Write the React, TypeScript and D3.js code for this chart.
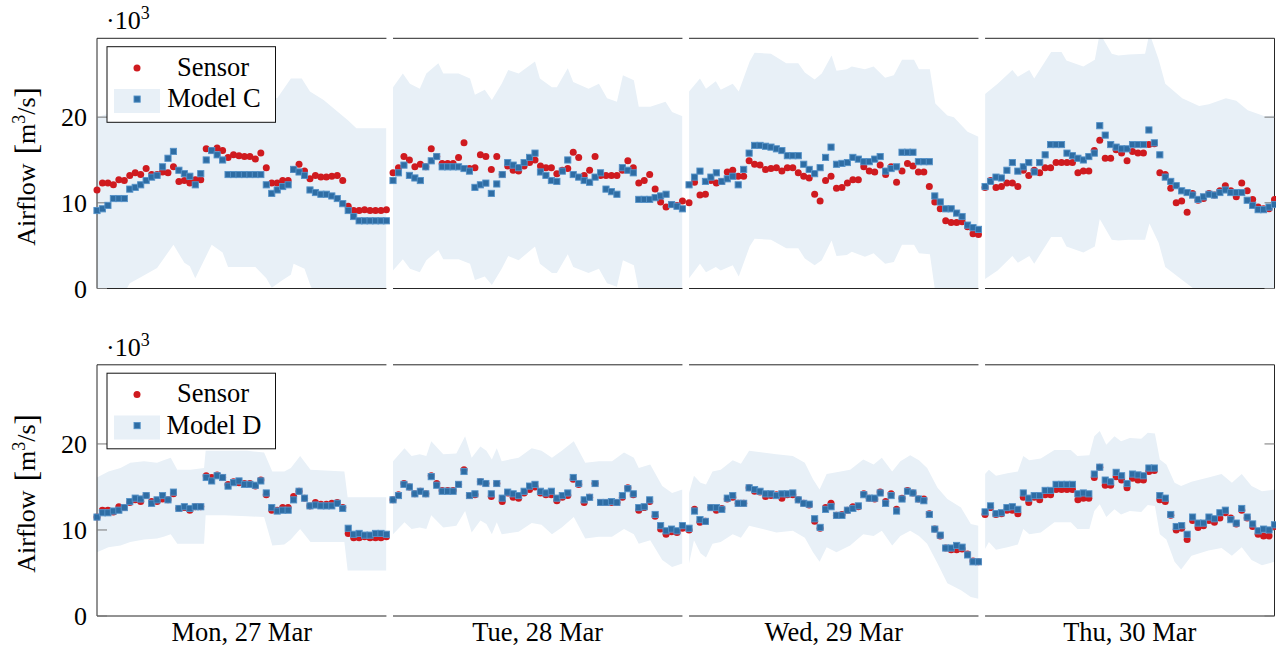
import * as d3 from "d3";

const days = ["Mon, 27 Mar", "Tue, 28 Mar", "Wed, 29 Mar", "Thu, 30 Mar"];
const yTicks = [0, 10, 20];
const yMax = 29.2;

// airflow in 10^3 m3/s, 54 samples per day
const sensor = [
  [11.5, 12.3, 12.3, 12.1, 12.7, 12.6, 13.2, 13.5, 13.3, 14.0, 13.3, 13.3, 13.6, 13.5, 14.2, 12.5, 12.6, 12.3, 12.7, 12.7,
   16.3, 16.1, 16.4, 16.1, 15.3, 15.6, 15.5, 15.4, 15.4, 15.1, 15.8, 14.1, 12.3, 12.3, 12.6, 12.6, 13.9, 14.5, 13.7, 12.8,
   13.2, 13.0, 13.0, 13.1, 13.2, 12.6, 9.6, 9.1, 9.1, 9.2, 9.1, 9.1, 9.1, 9.2],
  [13.5, 14.1, 15.4, 15.0, 14.2, 14.5, 14.2, 16.3, 15.4, 14.6, 14.6, 14.6, 15.3, 17.0, 14.0, 14.1, 15.6, 15.4, 13.9, 15.4,
   13.3, 14.3, 13.8, 13.7, 14.3, 14.7, 15.0, 14.3, 14.1, 14.1, 13.4, 13.8, 14.0, 15.9, 15.3, 13.2, 13.8, 15.4, 13.2, 13.2,
   13.2, 13.2, 13.8, 14.9, 14.1, 12.3, 12.6, 13.3, 11.6, 10.1, 9.5, 9.8, 9.7, 10.2],
  [10.0, 12.4, 10.9, 11.0, 12.6, 12.3, 12.5, 13.6, 13.8, 13.1, 13.1, 14.9, 14.5, 14.4, 13.9, 14.0, 14.1, 13.7, 14.1, 14.1,
   13.5, 13.1, 12.9, 11.0, 10.2, 12.6, 13.1, 11.7, 11.8, 12.3, 12.7, 12.7, 14.2, 13.7, 13.6, 14.4, 13.3, 14.2, 12.4, 13.7,
   14.6, 14.3, 13.6, 13.6, 11.9, 10.1, 9.3, 7.9, 7.7, 7.7, 7.8, 7.2, 6.4, 6.3],
  [11.8, 12.6, 11.8, 11.9, 12.3, 12.3, 11.9, 13.8, 13.2, 13.8, 13.5, 14.1, 14.1, 14.7, 14.7, 14.7, 14.7, 13.5, 13.7, 13.7,
   16.1, 17.3, 15.2, 15.2, 16.2, 15.8, 14.9, 16.0, 15.8, 15.8, 16.8, 16.9, 13.5, 13.3, 11.7, 10.0, 10.2, 8.9, 11.1, 10.3,
   10.5, 11.1, 10.9, 11.4, 12.0, 11.4, 10.7, 12.3, 11.4, 10.4, 9.5, 9.3, 9.3, 10.4],
];

const modelC = [
  [9.1, 9.3, 9.7, 10.5, 10.5, 10.5, 11.6, 11.8, 12.1, 12.6, 13.0, 13.2, 14.2, 15.2, 16.0, 13.8, 13.4, 13.1, 12.1, 13.4,
   15.0, 16.1, 15.6, 15.0, 13.3, 13.3, 13.3, 13.3, 13.3, 13.3, 13.3, 12.1, 11.1, 11.5, 11.9, 12.1, 13.9, 13.6, 13.2, 11.5,
   11.2, 11.0, 11.0, 10.8, 10.5, 9.9, 9.1, 8.4, 7.9, 7.9, 7.9, 7.9, 7.9, 7.9],
  [12.6, 13.5, 14.4, 13.2, 12.9, 12.6, 14.2, 14.9, 15.4, 14.2, 14.2, 14.2, 14.2, 14.0, 13.7, 11.8, 12.1, 12.3, 11.1, 12.2,
   13.3, 14.7, 14.4, 14.1, 14.7, 15.3, 15.8, 13.6, 13.2, 12.6, 12.5, 13.7, 15.0, 13.3, 13.0, 12.6, 12.4, 13.0, 13.5, 11.6,
   11.3, 11.0, 14.1, 13.8, 13.5, 10.4, 10.4, 10.4, 10.6, 10.8, 11.0, 9.8, 9.6, 9.3],
  [12.1, 13.0, 13.7, 12.5, 13.0, 13.5, 12.5, 12.8, 13.1, 12.1, 13.9, 15.8, 16.7, 16.7, 16.6, 16.5, 16.3, 16.1, 15.5, 15.5,
   15.5, 14.5, 13.9, 13.4, 14.1, 15.3, 16.5, 14.5, 14.6, 14.7, 15.3, 15.1, 14.8, 14.8, 15.1, 15.4, 13.7, 14.0, 14.2, 15.9,
   15.9, 15.9, 14.8, 14.8, 14.8, 10.8, 10.1, 9.3, 9.3, 8.8, 8.4, 7.4, 7.1, 6.9],
  [11.9, 12.5, 13.0, 12.9, 13.8, 14.7, 13.7, 14.2, 14.7, 13.6, 14.7, 15.6, 16.8, 16.8, 16.8, 15.8, 15.5, 15.2, 15.0, 15.4,
   15.8, 19.0, 17.9, 16.8, 16.5, 16.3, 16.3, 16.8, 16.8, 16.8, 18.5, 17.0, 15.6, 13.0, 12.5, 12.0, 11.4, 11.2, 10.9, 10.4,
   10.7, 11.0, 10.9, 11.2, 11.5, 11.2, 11.2, 11.2, 10.3, 9.7, 9.2, 9.2, 9.5, 9.8],
];

const modelD = [
  [11.5, 12.0, 12.0, 12.2, 12.3, 12.6, 13.3, 13.7, 13.6, 14.0, 13.1, 13.5, 14.0, 13.5, 14.4, 12.5, 12.7, 12.5, 12.7, 12.7,
   16.1, 15.7, 16.3, 16.1, 15.1, 15.5, 15.7, 15.3, 15.3, 15.2, 15.7, 14.3, 12.6, 12.2, 12.3, 12.3, 13.5, 14.5, 13.7, 12.8,
   12.9, 12.8, 12.8, 12.8, 13.1, 12.5, 10.2, 9.5, 9.6, 9.4, 9.4, 9.6, 9.6, 9.5],
  [13.5, 14.0, 15.3, 15.0, 14.2, 14.5, 14.2, 16.2, 15.2, 14.5, 14.5, 14.5, 15.3, 16.8, 14.0, 14.2, 15.6, 15.4, 14.2, 15.4,
   13.7, 14.4, 14.2, 14.0, 14.5, 15.1, 15.3, 14.5, 14.3, 14.5, 13.7, 14.0, 14.3, 16.1, 15.4, 13.5, 13.8, 15.4, 13.2, 13.2,
   13.3, 13.2, 14.0, 14.8, 14.2, 12.6, 12.7, 13.5, 11.8, 10.5, 9.9, 10.1, 9.9, 10.5],
  [10.2, 12.2, 11.2, 11.0, 12.6, 12.6, 12.4, 13.7, 14.0, 13.1, 13.1, 14.9, 14.7, 14.5, 14.2, 14.2, 14.0, 14.2, 14.2, 14.3,
   13.5, 13.1, 13.0, 11.3, 10.3, 12.4, 12.7, 11.7, 11.7, 12.3, 12.5, 12.8, 14.1, 13.7, 13.7, 14.3, 13.1, 14.0, 12.2, 13.6,
   14.5, 14.3, 13.6, 13.4, 11.8, 10.1, 9.4, 7.9, 7.9, 8.2, 8.0, 7.1, 6.3, 6.3],
  [12.1, 12.8, 11.9, 12.0, 12.6, 12.7, 12.4, 14.3, 13.7, 14.0, 14.0, 14.6, 14.6, 15.3, 15.3, 15.3, 15.3, 14.2, 14.3, 14.2,
   16.5, 17.3, 15.8, 15.6, 16.7, 16.3, 15.4, 16.5, 16.4, 16.3, 17.2, 17.2, 14.0, 13.7, 11.8, 10.4, 10.5, 9.5, 11.5, 10.8,
   10.8, 11.5, 11.3, 12.0, 12.3, 11.2, 10.8, 12.5, 11.5, 10.7, 9.9, 10.1, 10.0, 10.6],
];

// uncertainty band outlines: [sample index, value]
const cUpper = [
  [[0, 20.0], [5, 21.0], [8, 21.5], [11, 22.5], [14, 23.3], [16, 22.0], [18, 21.5], [21, 26.5], [23, 25.5], [24, 23.5],
   [29, 23.8], [31, 22.5], [33, 22.2], [35.5, 24.5], [37.5, 24.5], [39, 23.0], [41.5, 22.0], [46, 19.6], [47.5, 18.7], [53, 18.7]],
  [[0, 23.5], [1.8, 25.1], [3.1, 23.9], [4.9, 23.3], [6.1, 25.1], [8.3, 26.3], [9.2, 25.1], [12, 25.1], [14.1, 24.5], [15, 22.6],
   [16.8, 23.2], [18.1, 22.0], [19.9, 23.9], [21.1, 25.5], [23, 25.1], [26, 26.5], [26.9, 24.5], [29.1, 23.5], [30, 23.5], [32, 25.7],
   [33, 24.1], [35.8, 23.3], [37.7, 23.9], [39.2, 22.2], [41, 21.8], [42.1, 24.9], [44.1, 24.3], [45, 21.2], [47.1, 21.2], [49.9, 21.8],
   [51.1, 20.6], [53, 20.1]],
  [[0, 23.0], [2, 24.5], [3.1, 23.3], [4.9, 24.2], [5.8, 23.2], [8, 23.9], [9.1, 23.0], [11.1, 26.5], [12, 27.5], [15, 27.4],
   [17.8, 26.3], [20, 26.3], [21.2, 25.2], [23, 24.4], [24.3, 25.1], [26.1, 27.2], [27, 25.4], [28.9, 25.6], [29.8, 25.9], [32.2, 25.6],
   [33.8, 25.9], [35.9, 24.6], [37.5, 24.9], [39, 26.7], [41.2, 26.7], [42.1, 25.6], [44.1, 25.6], [45.1, 21.6], [47.3, 20.2], [48.5, 20.0],
   [51, 18.3], [53, 17.7]],
  [[0, 22.7], [2.3, 23.9], [5, 25.5], [6, 24.7], [8.1, 25.5], [9, 24.5], [12.1, 27.6], [14, 27.6], [14.9, 26.6], [18, 25.9],
   [20.1, 26.7], [21, 29.8], [23.2, 27.4], [24.4, 27.2], [26.3, 27.3], [29.3, 27.4], [30.1, 29.8], [31.8, 26.7], [33, 23.9], [36.1, 22.2],
   [39.2, 21.3], [41, 21.5], [44.1, 22.2], [46, 21.9], [48.1, 20.8], [51.2, 20.1], [53, 20.2]],
];

const cLower = [
  [[0, -2], [5, -0.5], [6, 0.6], [8, 1.3], [11, 2.4], [14, 5.1], [16, 3.0], [17, 2.6], [18, 1.2], [21, 5.1], [23, 4.2],
   [24, 2.5], [29, 2.5], [31, 1.2], [32, 0.1], [34, 1.0], [35.5, 1.6], [36, 2.9], [38, 2.3], [39, 0.5], [40, -1], [53, -1]],
  [[0, 2.1], [1.8, 3.4], [3.1, 2.3], [4.9, 1.9], [6.1, 3.3], [8.3, 4.5], [9.2, 3.4], [12, 3.4], [14.1, 2.9], [15, 1.0],
   [16.8, 1.4], [18.1, 0.4], [19.9, 2.3], [21.1, 3.8], [23, 3.3], [26, 4.9], [26.9, 2.9], [29.1, 1.8], [30, 1.8], [32, 4.0],
   [33, 2.5], [35.8, 1.8], [37.7, 2.3], [39.2, 0.6], [41, 0.2], [42.1, 3.3], [44.1, 2.7], [45, -0.2], [47.1, -0.5], [49.9, -0.5],
   [51.1, -1], [53, -1]],
  [[0, 1.2], [2, 2.9], [3.1, 1.9], [4.9, 2.5], [5.8, 2.1], [8, 2.7], [9.1, 1.4], [11.1, 4.9], [12, 5.8], [15, 5.7],
   [17.8, 4.7], [20, 4.7], [21.2, 3.5], [23, 2.7], [24.3, 3.3], [26.1, 5.6], [27, 3.8], [28.9, 3.9], [29.8, 4.3], [32.2, 3.7],
   [33.8, 4.1], [35.9, 2.9], [37.5, 3.1], [39, 5.1], [41.2, 5.1], [42.1, 4.1], [44.1, 4.0], [45.1, -0.5], [47.3, -2], [48.5, -2],
   [51, -3.5], [53, -4]],
  [[0, 1.1], [2.3, 2.1], [5, 3.8], [6, 3.0], [8.1, 3.8], [9, 2.9], [12.1, 6.0], [14, 6.0], [14.9, 4.9], [18, 4.2],
   [20.1, 4.9], [21, 8.1], [23.2, 5.7], [24.4, 5.6], [26.3, 5.7], [29.3, 5.7], [30.1, 7.6], [31.8, 5.3], [33, 2.5], [36.1, 1.0],
   [39.2, -0.5], [41, -0.5], [44.1, 0], [46, -0.3], [48.1, -1], [51.2, -1.5], [53, -1.5]],
];

const dUpper = [
  [[0, 16.1], [2.1, 16.8], [4.3, 17.2], [6.1, 17.8], [8.6, 18.0], [11, 17.8], [12.2, 18.1], [13.5, 18.4], [14.7, 17.0], [17.1, 17.0],
   [19.6, 17.2], [19.9, 19.2], [23.2, 19.2], [27.5, 19.2], [30.6, 19.0], [32.1, 16.8], [34.3, 16.8], [35.5, 17.2], [37.2, 18.6], [39.1, 17.0],
   [45.3, 16.8], [45.9, 13.8], [53, 13.8]],
  [[0, 18.0], [2.1, 19.5], [3.4, 18.6], [4.9, 18.8], [6.1, 18.6], [7.0, 20.3], [9.2, 18.8], [11.6, 18.9], [13.2, 20.9], [14.4, 18.4],
   [16.0, 19.7], [17.1, 19.2], [18.1, 18.2], [19.0, 19.5], [19.9, 18.0], [23, 18.4], [25.4, 19.5], [27.2, 19.2], [29.1, 18.4], [30.9, 19.2],
   [33.1, 20.3], [35.2, 17.8], [37.7, 18.0], [40.1, 18.0], [42.3, 19.0], [44.1, 18.4], [45, 17.2], [47.1, 17.6], [49.3, 15.1], [51.1, 14.3],
   [53, 14.7]],
  [[0, 14.3], [0.9, 16.3], [2.1, 15.5], [3.1, 15.3], [4.3, 16.8], [5.8, 17.0], [8, 18.1], [9.5, 17.7], [11, 19.2], [13.5, 19.0],
   [16, 18.8], [19, 18.6], [21.2, 17.8], [22.7, 15.9], [23.9, 14.7], [25.2, 16.5], [27, 16.7], [29.5, 17.0], [31.9, 18.2], [33.8, 17.6],
   [35.3, 18.4], [37.2, 16.8], [38.7, 18.0], [40.5, 18.7], [42.1, 18.1], [43.6, 17.2], [45.5, 14.9], [47.3, 13.6], [49.8, 12.6], [51.6, 10.7],
   [53, 10.5]],
  [[0, 16.5], [0.7, 17.0], [2, 16.3], [4.1, 16.6], [6, 16.8], [7.0, 18.6], [8.1, 18.1], [10.2, 18.3], [12.7, 19.3], [15.7, 19.3],
   [16.9, 18.6], [19.1, 18.7], [20, 20.9], [21, 21.5], [22.2, 19.9], [23.7, 20.9], [24.9, 20.3], [26.5, 20.7], [28.6, 20.6], [29.8, 21.3],
   [31.1, 21.2], [32, 18.2], [33.2, 17.6], [34.7, 15.5], [35.9, 15.1], [37.8, 15.6], [40.9, 16.1], [43.3, 16.5], [45.2, 15.5], [47, 16.5],
   [48.8, 15.1], [50.7, 14.5], [53, 14.7]],
];

const dLower = [
  [[0, 7.4], [2.1, 8.0], [4.3, 8.2], [6.1, 8.6], [8.6, 8.9], [11, 9.0], [12.2, 9.2], [13.5, 9.5], [14.7, 8.4], [17.1, 8.4],
   [19.6, 8.4], [19.9, 11.7], [23.2, 11.7], [27.5, 11.6], [30.6, 11.5], [32.1, 8.2], [34.3, 8.3], [35.5, 8.9], [37.2, 10.1], [39.1, 8.6],
   [45.3, 8.6], [45.9, 5.3], [53, 5.3]],
  [[0, 9.5], [2.1, 10.9], [3.4, 10.1], [4.9, 10.3], [6.1, 10.1], [7.0, 11.7], [9.2, 10.3], [11.6, 10.5], [13.2, 12.2], [14.4, 9.7],
   [16.0, 11.1], [17.1, 10.7], [18.1, 9.5], [19.0, 10.9], [19.9, 9.5], [23, 9.8], [25.4, 10.8], [27.2, 10.6], [29.1, 9.5], [30.9, 10.3],
   [33.1, 11.5], [35.2, 9.0], [37.7, 9.2], [40.1, 9.2], [42.3, 10.1], [44.1, 9.5], [45, 8.4], [47.1, 8.8], [49.3, 6.5], [51.1, 5.7],
   [53, 6.1]],
  [[0, 6.1], [0.9, 8.8], [2.1, 7.3], [3.1, 6.8], [4.3, 8.4], [5.8, 8.6], [8, 9.5], [9.5, 9.1], [11, 10.5], [13.5, 10.1],
   [16, 9.7], [19, 9.9], [21.2, 9.1], [22.7, 7.4], [23.9, 6.3], [25.2, 8.0], [27, 7.4], [29.5, 8.2], [31.9, 9.5], [33.8, 9.3],
   [35.3, 9.9], [37.2, 8.2], [38.7, 9.3], [40.5, 9.9], [42.1, 9.3], [43.6, 8.4], [45.5, 6.1], [47.3, 3.8], [49.8, 3.0], [51.6, 2.2],
   [53, 2.0]],
  [[0, 7.8], [0.7, 8.6], [2, 7.7], [4.1, 8.0], [6, 8.3], [7, 10.1], [8.1, 9.5], [10.2, 9.7], [12.7, 10.9], [15.7, 10.9],
   [16.9, 10.1], [19.1, 10.1], [20, 12.2], [21, 13.0], [22.2, 11.5], [23.7, 12.4], [24.9, 11.8], [26.5, 12.2], [28.6, 12.1], [29.8, 12.9],
   [31.1, 12.8], [32, 9.5], [33.2, 8.9], [34.7, 6.3], [35.9, 5.4], [37.8, 7.0], [40.9, 7.6], [43.3, 7.9], [45.2, 7.0], [47, 8.0],
   [48.8, 6.5], [50.7, 5.9], [53, 6.3]],
];

const width = 1276;
const height = 649;
const font = "'Liberation Serif', 'Times New Roman', serif";
const red = "#cf1a1f";
const blue = "#2e6da4";
const blueEdge = "#5592c8";
const bandFill = "#e8f0f7";
const axisColor = "#262626";

const dayScale = d3
  .scaleBand<number>()
  .domain(d3.range(days.length))
  .range([97, 1274.5])
  .paddingInner(0.0223);

const panels = [
  { top: 38.3, bottom: 288.5, model: modelC, upper: cUpper, lower: cLower, name: "Model C" },
  { top: 364.8, bottom: 616, model: modelD, upper: dUpper, lower: dLower, name: "Model D" },
];

const Panel = ({ p, n, showX }: { p: (typeof panels)[number]; n: number; showX: boolean }) => {
  const y = d3.scaleLinear().domain([0, yMax]).range([p.bottom, p.top]);
  const bw = dayScale.bandwidth();
  const xs = days.map((_, k) => {
    const x0 = dayScale(k)!;
    return d3.scaleLinear().domain([0, 53]).range([x0, x0 + bw]);
  });
  const first = dayScale(0)!;
  const last = dayScale(days.length - 1)! + bw;
  const dy = p.top - 38.3;

  return (
    <g>
      {days.map((d, k) => {
        const x = xs[k];
        const outline = d3
          .line<number[]>()
          .x((q) => x(q[0]))
          .y((q) => y(q[1]));
        const poly = outline([...p.upper[k], ...p.lower[k].slice().reverse()]) + "Z";
        const x0 = dayScale(k)!;
        return (
          <g key={d}>
            <clipPath id={`clip${n}-${k}`}>
              <rect x={x0} y={p.top} width={bw} height={p.bottom - p.top} />
            </clipPath>
            <path d={poly} fill={bandFill} clipPath={`url(#clip${n}-${k})`} />
            <line x1={x0} x2={x0 + bw} y1={p.top} y2={p.top} stroke={axisColor} strokeWidth={1} />
            <line x1={x0} x2={x0 + bw} y1={p.bottom} y2={p.bottom} stroke={axisColor} strokeWidth={1} />
            {showX && (
              <text x={x0 + bw / 2} y={641} textAnchor="middle" fontSize={26.5} fontFamily={font}>
                {d}
              </text>
            )}
          </g>
        );
      })}

      <line x1={first} x2={first} y1={p.top} y2={p.bottom} stroke={axisColor} strokeWidth={1} />
      <line x1={last} x2={last} y1={p.top} y2={p.bottom} stroke={axisColor} strokeWidth={1} />
      {yTicks.map((t) => (
        <g key={t}>
          <line x1={first} x2={first + 10} y1={y(t)} y2={y(t)} stroke="#777" strokeWidth={1} />
          <line x1={last - 10} x2={last} y1={y(t)} y2={y(t)} stroke="#777" strokeWidth={1} />
          <text x={87} y={y(t) + 9} textAnchor="end" fontSize={26} fontFamily={font}>
            {t}
          </text>
        </g>
      ))}

      <text x={106} y={29.3 + dy} fontSize={26} fontFamily={font}>
        ·10
        <tspan dy={-10} fontSize={18}>
          3
        </tspan>
      </text>
      <text
        transform={`translate(35,${(p.top + p.bottom) / 2 + 3}) rotate(-90)`}
        textAnchor="middle"
        fontSize={26}
        fontFamily={font}
      >
        Airflow
        <tspan dx={9} fontSize={31} dy={1.5}>
          [
        </tspan>
        <tspan dy={-1.5}>m</tspan>
        <tspan dy={-10} fontSize={18}>
          3
        </tspan>
        <tspan dy={10}>/s</tspan>
        <tspan fontSize={31} dy={1.5}>
          ]
        </tspan>
      </text>

      {days.map((d, k) =>
        sensor[k].map((v, i) => (
          <circle key={`s${d}${i}`} cx={xs[k](i)} cy={y(v)} r={3.5} fill={red} />
        ))
      )}
      {days.map((d, k) =>
        p.model[k].map((v, i) => (
          <rect
            key={`m${d}${i}`}
            x={xs[k](i) - 3.1}
            y={y(v) - 3.1}
            width={6.2}
            height={6.2}
            fill={blue}
            stroke={blueEdge}
            strokeWidth={0.9}
          />
        ))
      )}

      <g transform={`translate(0,${dy})`}>
        <rect x={107} y={46.7} width={168.5} height={75.6} fill="white" stroke="#111" strokeWidth={1} />
        <circle cx={137} cy={68} r={3.5} fill={red} />
        <rect x={114} y={89} width={46} height={24} fill={bandFill} />
        <rect x={134} y={96} width={6.2} height={6.2} fill={blue} stroke={blueEdge} strokeWidth={0.9} />
        <text x={213} y={75.5} textAnchor="middle" fontSize={26.5} fontFamily={font}>
          Sensor
        </text>
        <text x={214} y={107.3} textAnchor="middle" fontSize={26.5} fontFamily={font}>
          {p.name}
        </text>
      </g>
    </g>
  );
};

export default function App() {
  return (
    <svg
      width={width}
      height={height}
      style={{ position: "absolute", left: 0, top: 0, background: "white" }}
    >
      {panels.map((p, n) => (
        <Panel key={p.name} p={p} n={n} showX={n === 1} />
      ))}
    </svg>
  );
}
